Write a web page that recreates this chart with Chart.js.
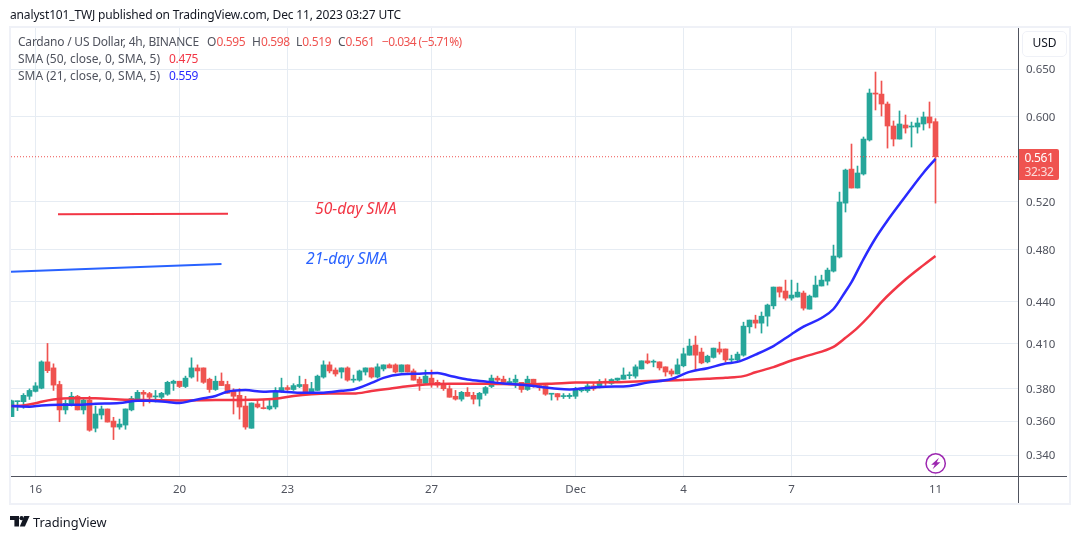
<!DOCTYPE html>
<html>
<head>
<meta charset="utf-8">
<title>ADAUSD 4h</title>
<script src="https://cdn.jsdelivr.net/npm/chart.js@4/dist/chart.umd.min.js"></script>
<style>
  html, body { margin: 0; padding: 0; background: #fff; }
  body { width: 1080px; height: 539px; position: relative; overflow: hidden; font-family: "Noto Sans", sans-serif; }
  canvas { position: absolute; left: 0; top: 0; }
  .box { position: absolute; }
  .txt { position: absolute; white-space: nowrap; font-size: 12px; line-height: 14px; color: #50535e; }
  .up { color: #ef5350; }
  .val { letter-spacing: -0.35px; }
  .note { position: absolute; white-space: nowrap; font-size: 15.7px; line-height: 18px; font-style: italic; }
</style>
</head>
<body>
<canvas id="adaChart" width="1080" height="539"></canvas>

<!-- frame and axis rules -->
<div class="box" style="left:9px;top:26px;width:1058px;height:475px;border:2px solid #eff1f7"></div>
<div class="box" style="left:1018px;top:28px;width:1px;height:475px;background:#50535e"></div>
<div class="box" style="left:11px;top:476px;width:1056px;height:1px;background:#50535e"></div>

<div class="txt" style="left:10px;top:8px;color:#131722;letter-spacing:-0.15px">analyst101_TWJ published on TradingView.com, Dec 11, 2023 03:27 UTC</div>

<div class="txt" style="left:18px;top:35px;letter-spacing:-0.22px">Cardano / US Dollar, 4h, BINANCE</div>
<div class="txt" style="left:207px;top:35px">O<span class="up val">0.595</span></div>
<div class="txt" style="left:252px;top:35px">H<span class="up val">0.598</span></div>
<div class="txt" style="left:296px;top:35px">L<span class="up val">0.519</span></div>
<div class="txt" style="left:338px;top:35px">C<span class="up val">0.561</span></div>
<div class="txt up" style="left:382px;top:35px;letter-spacing:-0.6px">−0.034 (−5.71%)</div>
<div class="txt" style="left:18px;top:52px">SMA (50, close, 0, SMA, 5)</div>
<div class="txt val" style="left:169px;top:52px;color:#f23645">0.475</div>
<div class="txt" style="left:18px;top:69px">SMA (21, close, 0, SMA, 5)</div>
<div class="txt val" style="left:169px;top:69px;color:#2a2aff">0.559</div>

<div class="note" style="left:315px;top:199px;color:#f23645">50-day SMA</div>
<div class="note" style="left:306px;top:249px;color:#2962ff">21-day SMA</div>

<!-- currency button -->
<div class="box" style="left:1022px;top:31px;width:43px;height:24px;border:1px solid #eff1f7;border-radius:5px"></div>
<div class="txt" style="left:1022px;top:36px;width:45px;text-align:center;color:#131722">USD</div>

<!-- last price tag -->
<div class="box" style="left:1019px;top:149px;width:40px;height:31px;background:#ef5350;border-radius:0 2px 2px 0"></div>
<div class="txt val" style="left:1019px;top:151px;width:40px;text-align:center;color:#fff">0.561</div>
<div class="txt val" style="left:1019px;top:165px;width:40px;text-align:center;color:#fbdcdb">32:32</div>

<!-- lightning badge -->
<svg class="box" style="left:924px;top:452px" width="24" height="24" viewBox="0 0 24 24">
  <circle cx="11.7" cy="11.4" r="9.6" fill="#fff" stroke="#9c27b0" stroke-width="1.5"/>
  <path d="M15 5.8 L7.2 12.8 H10.8 L8.6 17.2 L16.4 10.2 H12.8 Z" fill="#9c27b0"/>
</svg>

<!-- brand mark -->
<svg class="box" style="left:10px;top:516px" width="20" height="11" viewBox="0 0 20 11">
  <path d="M0 0 H9 V10.5 H4.4 V4 H0 Z" fill="#131722"/>
  <circle cx="11.6" cy="2.2" r="2.1" fill="#131722"/>
  <path d="M14.2 0 H19.6 L14.9 10.5 H9.8 Z" fill="#131722"/>
</svg>
<div class="txt" style="left:33px;top:514px;font-size:12.8px;line-height:16px;color:#131722">TradingView</div>

<script>
// 4h candles, first bar is index 0, last one is the bar still open
const opens = [
  .3627,.3719,.3719,.3753,.3784,.3804,.3976,.3936,.3828,.3668,
  .3705,.3753,.3668,.3729,.3557,.3637,.3674,.3600,.3564,.3576,
  .3668,.3729,.3778,.3770,.3749,.3747,.3766,.3835,.3849,.3815,
  .3876,.3936,.3936,.3862,.3796,.3849,.3828,.3790,.3759,.3692,
  .3557,.3705,.3680,.3674,.3686,.3784,.3808,.3796,.3815,.3828,
  .3772,.3790,.3876,.3956,.3922,.3909,.3936,.3856,.3856,.3909,
  .3936,.3876,.3929,.3956,.3956,.3909,.3956,.3916,.3862,.3835,
  .3869,.3842,.3835,.3801,.3753,.3735,.3778,.3759,.3735,.3772,
  .3815,.3869,.3862,.3840,.3842,.3842,.3796,.3862,.3821,.3821,
  .3766,.3770,.3751,.3751,.3753,.3788,.3788,.3819,.3815,.3849,
  .3835,.3856,.3862,.3885,.3882,.3929,.3983,.3974,.3976,.3943,
  .3916,.3896,.3950,.4021,.4090,.4042,.3976,.4006,.4063,.4063,
  .3989,.3989,.4021,.4217,.4265,.4243,.4293,.4368,.4508,.4478,
  .4425,.4433,.4463,.4344,.4433,.4516,.4553,.4630,.4741,.5190,
  .5495,.5323,.5450,.5770,.6243,.6232,.6129,.5907,.5779,.5917,
  .5897,.5897,.5927,.5997,.595
];
const highs = [
  .3729,.3723,.3770,.3800,.3840,.3983,.4101,.3963,.3849,.3729,
  .3778,.3759,.3735,.3753,.3692,.3692,.3674,.3623,.3612,.3674,
  .3753,.3790,.3790,.3778,.3790,.3778,.3849,.3856,.3849,.3882,
  .4003,.3956,.3936,.3869,.3882,.3903,.3849,.3801,.3801,.3753,
  .3711,.3729,.3729,.3729,.3808,.3869,.3821,.3833,.3882,.3862,
  .3842,.3889,.3983,.3976,.3936,.3936,.3943,.3889,.3922,.3936,
  .3936,.3963,.3956,.3963,.3963,.3956,.3956,.3929,.3876,.3922,
  .3922,.3856,.3856,.3821,.3790,.3784,.3808,.3778,.3778,.3815,
  .3889,.3882,.3882,.3869,.3889,.3842,.3882,.3862,.3835,.3835,
  .3770,.3770,.3770,.3770,.3810,.3800,.3842,.3833,.3860,.3865,
  .3865,.3869,.3936,.3909,.3956,.3983,.4030,.3989,.3976,.3943,
  .3929,.3996,.4069,.4131,.4152,.4069,.4021,.4069,.4110,.4063,
  .4021,.4042,.4250,.4265,.4300,.4323,.4381,.4508,.4508,.4561,
  .4561,.4538,.4478,.4448,.4592,.4599,.4654,.4837,.5287,.5495,
  .5731,.5523,.5799,.6285,.6467,.6370,.6150,.5957,.6058,.6017,
  .5946,.5987,.6047,.6150,.598
];
const lows = [
  .3627,.3664,.3678,.3733,.3780,.3800,.3905,.3790,.3596,.3643,
  .3692,.3668,.3643,.3539,.3535,.3612,.3594,.3490,.3551,.3551,
  .3662,.3723,.3692,.3711,.3717,.3735,.3759,.3790,.3808,.3808,
  .3869,.3849,.3835,.3778,.3790,.3821,.3772,.3643,.3612,.3551,
  .3557,.3680,.3674,.3668,.3674,.3778,.3790,.3790,.3808,.3772,
  .3770,.3790,.3869,.3903,.3882,.3869,.3849,.3842,.3849,.3889,
  .3869,.3869,.3916,.3936,.3903,.3909,.3909,.3856,.3790,.3828,
  .3810,.3810,.3790,.3747,.3729,.3723,.3753,.3705,.3692,.3759,
  .3808,.3828,.3835,.3828,.3808,.3778,.3790,.3810,.3790,.3759,
  .3729,.3729,.3739,.3739,.3739,.3780,.3778,.3790,.3806,.3821,
  .3828,.3845,.3862,.3865,.3869,.3929,.3963,.3943,.3922,.3882,
  .3882,.3896,.3943,.4021,.3922,.3963,.3969,.4001,.4028,.3976,
  .3972,.3983,.4014,.4173,.4208,.4173,.4222,.4346,.4433,.4410,
  .4410,.4433,.4337,.4344,.4433,.4516,.4523,.4623,.4733,.5113,
  .5323,.5323,.5440,.5760,.6068,.6007,.5692,.5712,.5779,.5837,
  .5702,.5837,.5867,.5887,.519
];
const closes = [
  .3725,.3723,.3759,.3790,.3819,.3976,.3918,.3824,.3668,.3709,
  .3753,.3668,.3729,.3545,.3643,.3674,.3594,.3564,.3582,.3674,
  .3739,.3778,.3766,.3747,.3753,.3772,.3842,.3849,.3815,.3869,
  .3936,.3916,.3842,.3796,.3849,.3821,.3772,.3753,.3686,.3564,
  .3711,.3686,.3676,.3692,.3778,.3808,.3796,.3821,.3828,.3772,
  .3801,.3882,.3956,.3916,.3896,.3936,.3856,.3860,.3916,.3936,
  .3876,.3943,.3956,.3936,.3909,.3956,.3909,.3856,.3835,.3882,
  .3828,.3824,.3801,.3747,.3735,.3778,.3753,.3735,.3772,.3808,
  .3869,.3856,.3842,.3847,.3862,.3796,.3862,.3815,.3808,.3766,
  .3770,.3749,.3757,.3759,.3794,.3794,.3819,.3800,.3847,.3840,
  .3860,.3869,.3889,.3889,.3943,.3983,.3969,.3980,.3936,.3909,
  .3896,.3956,.4030,.4083,.4021,.3969,.4014,.4069,.4042,.3989,
  .3996,.4028,.4222,.4265,.4243,.4293,.4374,.4508,.4470,.4425,
  .4448,.4470,.4351,.4440,.4523,.4561,.4638,.4749,.5199,.5486,
  .5323,.5459,.5779,.6243,.6232,.6129,.5907,.5779,.5927,.5887,
  .5907,.5937,.5997,.5937,.561
];

// moving averages, sampled at these bars
const sma21Bars = [0,3,5,8,11,14,18,21,23,26,28,30,32,34,36,39,42,44,48,52,55,57,60,62,65,68,71,73,76,79,82,85,89,91,93,96,99,103,106,110,113,116,119,121,124,127,130,132,135,137,139,140,142,144,146,148,150,152,154];
const sma21Values = [.3692,.3688,.3696,.3700,.3700,.3706,.3711,.3725,.3725,.3717,.3711,.3725,.3741,.3755,.3782,.3792,.3782,.3785,.3776,.3776,.3788,.3796,.3838,.3871,.3894,.3898,.3903,.3885,.3860,.3847,.3835,.3826,.3809,.3800,.3796,.3806,.3813,.3819,.3840,.3863,.3910,.3934,.3965,.3976,.4025,.4083,.4165,.4218,.4280,.4345,.4475,.4545,.4725,.4893,.5040,.5180,.5322,.5462,.559];
const sma50Bars = [0,2,4,5,7,10,14,18,22,28,34,40,44,47,50,53,57,60,63,66,69,73,79,85,90,94,100,105,111,116,119,122,124,127,130,133,137,139,141,143,145,149,152,154];
const sma50Values = [.3692,.3696,.3709,.3719,.3733,.3741,.3741,.3733,.3729,.3727,.3729,.3731,.3737,.3755,.3766,.3770,.3770,.3786,.3801,.3817,.3828,.3833,.3833,.3828,.3833,.3840,.3842,.3849,.3856,.3865,.3871,.3882,.3907,.3941,.3985,.4021,.4078,.4140,.4210,.4296,.4396,.4565,.4677,.475];

// hand drawn strokes next to the two notes
const redStrokeBars = [7.75, 36.08];
const redStrokeValues = [.5094, .5099];
const blueStrokeBars = [-0.16, 35];
const blueStrokeValues = [.4625, .4685];

const tickBars = [4, 28, 46, 70, 94, 112, 130, 154];
const tickLabels = ['16', '20', '23', '27', 'Dec', '4', '7', '11'];
const priceTicks = [0.65, 0.6, 0.52, 0.48, 0.44, 0.41, 0.38, 0.36, 0.34];

const barMin = -0.0833, barMax = 167.9167;
const priceMin = 0.3283, priceMax = 0.6963;

const GREEN = '#26a69a', RED = '#ef5350';
const GRID = '#e6ecf3';
const FONT = '"Noto Sans", sans-serif';

const candleColors = closes.map((c, i) => c >= opens[i] ? GREEN : RED);
const toPoints = (xs, ys) => xs.map((x, i) => ({ x: x, y: ys[i] }));

new Chart(document.getElementById('adaChart').getContext('2d'), {
  type: 'bar',
  data: {
    datasets: [
      {
        type: 'line', label: 'SMA 21', order: 0,
        data: toPoints(sma21Bars, sma21Values),
        borderColor: '#2a2aff', borderWidth: 2.5, pointRadius: 0,
        cubicInterpolationMode: 'monotone'
      },
      {
        type: 'line', label: 'SMA 50', order: 0,
        data: toPoints(sma50Bars, sma50Values),
        borderColor: '#f23645', borderWidth: 2.5, pointRadius: 0,
        cubicInterpolationMode: 'monotone'
      },
      {
        type: 'line', label: '50-day stroke', order: 0,
        data: toPoints(redStrokeBars, redStrokeValues),
        borderColor: '#f23645', borderWidth: 2, pointRadius: 0
      },
      {
        type: 'line', label: '21-day stroke', order: 0,
        data: toPoints(blueStrokeBars, blueStrokeValues),
        borderColor: '#2962ff', borderWidth: 2, pointRadius: 0
      },
      {
        type: 'line', label: 'Last price', order: 0,
        data: toPoints([barMin, barMax], [closes[154], closes[154]]),
        borderColor: RED, borderWidth: 1, borderDash: [1, 2], pointRadius: 0
      },
      {
        label: 'Bodies', order: 1,
        data: closes.map((c, i) => ({ x: i, y: [opens[i], c] })),
        backgroundColor: candleColors,
        barThickness: 5, minBarLength: 1, grouped: false
      },
      {
        label: 'Wicks', order: 2,
        data: closes.map((c, i) => ({ x: i, y: [lows[i], highs[i]] })),
        backgroundColor: candleColors,
        barThickness: 1, minBarLength: 1, grouped: false
      }
    ]
  },
  options: {
    responsive: false,
    animation: false,
    events: [],
    layout: { padding: { left: 11, right: 11, top: 28, bottom: 36 } },
    plugins: { legend: { display: false }, tooltip: { enabled: false } },
    scales: {
      x: {
        type: 'linear', offset: false, min: barMin, max: barMax,
        afterBuildTicks: s => { s.ticks = tickBars.map(v => ({ value: v })); },
        afterFit: s => { s.height = 27; },
        grid: { color: GRID, offset: false, drawTicks: false },
        border: { display: false },
        ticks: {
          autoSkip: false, maxRotation: 0, padding: 7,
          color: '#50535e', font: { family: FONT, size: 11.5 },
          callback: (v, i) => tickLabels[i]
        }
      },
      y: {
        type: 'logarithmic', position: 'right', bounds: 'data',
        min: priceMin, max: priceMax,
        afterBuildTicks: s => { s.ticks = priceTicks.map(v => ({ value: v })); },
        afterFit: s => { s.width = 50; },
        grid: { color: GRID, drawTicks: false },
        border: { display: false },
        ticks: {
          autoSkip: false, padding: 7,
          color: '#50535e', font: { family: FONT, size: 11.5, lineHeight: '2px' },
          // the blank first line pushes the label a pixel below the grid line
          callback: v => ['', v.toFixed(3)]
        }
      }
    }
  }
});
</script>
</body>
</html>
